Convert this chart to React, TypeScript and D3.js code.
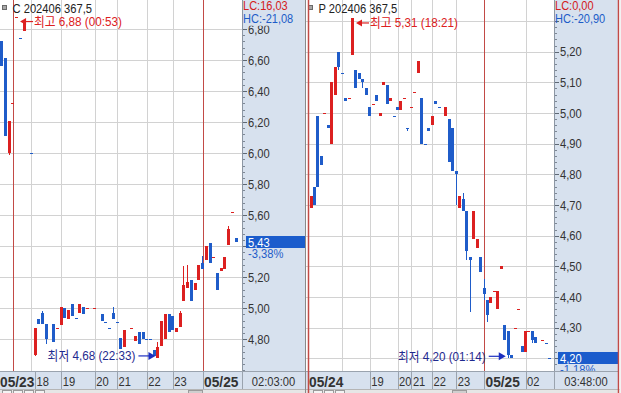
import React from "react";
import * as d3 from "d3";

const RED = "#dc2020";
const BLUE = "#1f5cc9";
const GRID = "#d2d2d2";
const DAYLINE = "#c24a46";
const BAND = "#d7e1ee";
const BAND_EDGE = "#8c96a3";
const NAVY = "#1f2a8f";
const FONT = "'Liberation Sans', Arial, 'Noto Sans CJK KR', sans-serif";

// ---------- Call (C 202406 367,5) ----------
const callSlot = [0, 1, 2, 3, 4, 5, 6, 8, 9, 10, 11, 12, 14, 15, 16, 17, 18, 19, 20, 21, 22, 23, 25, 27, 28, 29, 30, 31, 32, 33, 35, 36, 37, 38, 39, 40, 41, 42, 43, 44, 45, 46, 47, 48, 49, 50, 51, 52, 53, 54, 55, 56, 57, 58, 59, 60, 61, 62, 63];
const callOpen = [6.72, 6.61, 6.0, 6.32, 6.88, 6.74, 6.79, 6.0, 4.7, 4.93, 4.97, 4.9, 4.9, 4.87, 4.89, 5.0, 4.93, 5.03, 4.94, 4.97, 5.01, 5.0, 5.0, 4.96, 4.91, 4.87, 4.97, 4.91, 4.81, 4.75, 4.87, 4.79, 4.85, 4.85, 4.8, 4.8, 4.73, 4.68, 4.76, 4.8, 4.96, 4.95, 4.85, 4.88, 5.05, 5.13, 5.18, 5.12, 5.18, 5.29, 5.31, 5.42, 5.33, 5.23, 5.24, 5.25, 5.41, 5.62, 5.45];
const callHigh = [6.72, 6.61, 6.21, 6.32, 6.88, 6.74, 6.85, 6.0, 4.87, 4.93, 4.98, 4.9, 4.9, 4.87, 5.01, 5.0, 4.99, 5.03, 4.94, 5.03, 5.01, 5.0, 5.0, 4.96, 4.91, 4.87, 5.01, 4.91, 4.81, 4.86, 4.87, 4.82, 4.85, 4.85, 4.8, 4.8, 4.73, 4.78, 4.92, 4.96, 4.96, 4.95, 4.87, 4.98, 5.27, 5.28, 5.18, 5.16, 5.28, 5.34, 5.4, 5.42, 5.33, 5.23, 5.26, 5.33, 5.53, 5.62, 5.45];
const callLow = [6.56, 6.11, 5.99, 6.32, 6.88, 6.74, 6.79, 6.0, 4.69, 4.9, 4.9, 4.77, 4.78, 4.87, 4.89, 4.94, 4.93, 4.95, 4.94, 4.97, 4.96, 5.0, 5.0, 4.92, 4.91, 4.87, 4.93, 4.91, 4.74, 4.75, 4.87, 4.79, 4.77, 4.8, 4.8, 4.8, 4.69, 4.68, 4.76, 4.8, 4.85, 4.86, 4.85, 4.88, 5.05, 5.13, 5.05, 5.12, 5.18, 5.25, 5.31, 5.29, 5.33, 5.12, 5.24, 5.25, 5.41, 5.62, 5.43];
const callClose = [6.56, 6.11, 6.21, 6.32, 6.88, 6.74, 6.85, 6.0, 4.87, 4.9, 4.9, 4.8, 4.78, 4.87, 5.01, 4.94, 4.99, 4.95, 4.94, 5.03, 4.96, 5.0, 5.0, 4.92, 4.91, 4.87, 4.93, 4.91, 4.74, 4.86, 4.87, 4.82, 4.77, 4.8, 4.8, 4.8, 4.69, 4.75, 4.92, 4.96, 4.85, 4.86, 4.87, 4.97, 5.15, 5.17, 5.05, 5.16, 5.28, 5.25, 5.4, 5.29, 5.33, 5.12, 5.26, 5.33, 5.51, 5.62, 5.43];
const callTicks = [4.8, 5.0, 5.2, 5.4, 5.6, 5.8, 6.0, 6.2, 6.4, 6.6, 6.8];
const callGridSlots = [3, 8, 16, 25, 31, 39, 46, 54];
const callDaySlots = [3, 54];
const callLabelSlots = [3, 8, 16, 25, 31, 39, 46, 54];
const callLabels = ["05/23", "18", "19", "20", "21", "22", "23", "05/25"];

// ---------- Put (P 202406 367,5) ----------
const putSlot = [0, 1, 2, 3, 4, 5, 6, 7, 8, 9, 10, 11, 12, 13, 14, 15, 16, 17, 18, 19, 20, 21, 22, 23, 24, 25, 26, 27, 28, 29, 30, 31, 32, 33, 34, 35, 36, 37, 39, 40, 41, 42, 43, 44, 45, 46, 47, 48, 49, 50, 51, 52, 53, 54, 55, 56, 57, 58, 59, 60, 61, 62, 63, 64, 65, 67, 68, 69];
const putOpen = [4.69, 4.76, 4.99, 4.86, 5.0, 4.96, 4.9, 5.06, 5.2, 5.13, 5.05, 5.05, 5.19, 5.14, 5.13, 5.11, 5.08, 5.02, 5.03, 5.06, 4.99, 5.09, 5.09, 5.04, 4.99, 5.02, 5.01, 5.05, 4.95, 5.02, 5.07, 5.13, 5.05, 4.9, 4.95, 4.96, 5.04, 5.02, 4.99, 4.98, 4.95, 4.81, 4.69, 4.72, 4.68, 4.53, 4.59, 4.56, 4.53, 4.43, 4.39, 4.38, 4.42, 4.36, 4.49, 4.31, 4.29, 4.21, 4.3, 4.36, 4.24, 4.22, 4.29, 4.29, 4.27, 4.26, 4.25, 4.2];
const putHigh = [4.73, 4.76, 4.99, 4.86, 5.0, 4.96, 5.1, 5.15, 5.2, 5.13, 5.05, 5.05, 5.31, 5.14, 5.13, 5.11, 5.08, 5.02, 5.03, 5.06, 5.0, 5.1, 5.09, 5.05, 4.99, 5.02, 5.04, 5.05, 4.95, 5.02, 5.07, 5.17, 5.05, 4.9, 4.95, 4.99, 5.04, 5.02, 5.02, 4.98, 4.95, 4.81, 4.73, 4.74, 4.68, 4.53, 4.68, 4.59, 4.53, 4.46, 4.39, 4.4, 4.42, 4.42, 4.5, 4.31, 4.29, 4.21, 4.3, 4.36, 4.24, 4.29, 4.29, 4.29, 4.27, 4.26, 4.25, 4.2];
const putLow = [4.69, 4.7, 4.76, 4.83, 5.0, 4.95, 4.9, 5.06, 5.14, 5.13, 5.04, 5.05, 5.19, 5.08, 5.11, 5.08, 5.06, 4.99, 5.03, 5.04, 4.99, 5.09, 5.03, 5.04, 4.99, 5.01, 5.01, 5.05, 4.94, 5.02, 5.07, 5.13, 4.9, 4.9, 4.94, 4.96, 5.03, 5.02, 4.99, 4.84, 4.81, 4.7, 4.69, 4.68, 4.52, 4.35, 4.59, 4.56, 4.48, 4.39, 4.32, 4.38, 4.42, 4.36, 4.49, 4.26, 4.2, 4.2, 4.3, 4.36, 4.22, 4.22, 4.29, 4.25, 4.25, 4.26, 4.25, 4.2];
const putClose = [4.73, 4.7, 4.76, 4.83, 5.0, 4.95, 5.1, 5.15, 5.15, 5.13, 5.04, 5.05, 5.31, 5.08, 5.11, 5.1, 5.06, 4.99, 5.03, 5.04, 5.0, 5.1, 5.03, 5.05, 4.99, 5.01, 5.04, 5.05, 4.95, 5.02, 5.07, 5.17, 4.9, 4.9, 4.94, 4.99, 5.03, 5.02, 5.02, 4.84, 4.81, 4.8, 4.73, 4.68, 4.55, 4.52, 4.68, 4.59, 4.48, 4.41, 4.34, 4.4, 4.42, 4.42, 4.5, 4.26, 4.21, 4.2, 4.3, 4.36, 4.22, 4.29, 4.29, 4.26, 4.25, 4.26, 4.25, 4.2];
const putTicks = [4.2, 4.3, 4.4, 4.5, 4.6, 4.7, 4.8, 4.9, 5.0, 5.1, 5.2, 5.3];
const putGridSlots = [-1, 9, 17, 25, 29, 35, 42, 50, 62];
const putDaySlots = [-1, 50];
const putLabelSlots = [-1, 17, 25, 29, 35, 42, 50, 62];
const putLabels = ["05/24", "19", "20", "21", "22", "23", "05/25", "02"];

// ---------- helpers ----------
type Candle = { slot: number; o: number; h: number; l: number; c: number; color: string };

function buildCandles(slot: number[], o: number[], h: number[], l: number[], c: number[]): Candle[] {
  const out: Candle[] = [];
  let prevColor = RED;
  for (let i = 0; i < slot.length; i++) {
    let color = prevColor;
    if (c[i] > o[i]) color = RED;
    else if (c[i] < o[i]) color = BLUE;
    else if (i > 0 && c[i] > c[i - 1]) color = RED;
    else if (i > 0 && c[i] < c[i - 1]) color = BLUE;
    prevColor = color;
    out.push({ slot: slot[i], o: o[i], h: h[i], l: l[i], c: c[i], color });
  }
  return out;
}

const fmt = (v: number) => v.toFixed(2).replace(".", ",");

function T(props: {
  x: number; y: number; k?: number; size?: number; fill?: string; weight?: string;
  anchor?: "start" | "middle" | "end"; children: React.ReactNode;
}) {
  const { x, y, k = 0.86, size = 13, fill = "#2a2a2a", weight = "normal", anchor = "start" } = props;
  return (
    <text transform={`translate(${x},${y}) scale(${k},1)`} fontSize={size} fill={fill}
      fontWeight={weight} textAnchor={anchor} fontFamily={FONT}>
      {props.children}
    </text>
  );
}

const BOTTOM = 371;

type PanelCfg = {
  x: d3.ScaleLinear<number, number>;
  y: d3.ScaleLinear<number, number>;
  plotX0: number; plotX1: number; bandX0: number; bandX1: number;
  candles: Candle[];
  ticks: number[]; minorStep: number; hideTop: boolean;
  gridSlots: number[]; daySlots: number[];
  title: string; lc: string; hc: string; pct: string;
  hi: { slot: number; val: number; text: string };
  lo: { slot: number; val: number; text: string };
};

function Panel({ cfg }: { cfg: PanelCfg }) {
  const { x, y, plotX0, plotX1, bandX0, bandX1, candles, ticks } = cfg;
  const last = candles[candles.length - 1];
  const vTop = y.invert(0), vBot = y.invert(BOTTOM);
  const minors: number[] = [];
  for (let k = Math.ceil(vBot / cfg.minorStep); k * cfg.minorStep <= vTop; k++) minors.push(k * cfg.minorStep);

  const hiCx = x(cfg.hi.slot), hiY = y(cfg.hi.val) + 5, hiTip = hiCx + 3.5;
  const loCx = x(cfg.lo.slot), loY = y(cfg.lo.val) - 2, loTip = loCx - 2.5;
  const boxY = Math.round(y(last.c));
  const topTickY = y(ticks[ticks.length - 1]);
  const clipId = "clip" + Math.round(bandX0);

  return (
    <g>
      <defs>
        <clipPath id={clipId}>
          <rect x={bandX0} y={25.5} width={bandX1 - bandX0} height={BOTTOM - 25.5} />
        </clipPath>
      </defs>
      <rect x={plotX0} y={0} width={plotX1 - plotX0} height={BOTTOM} fill="#ffffff" />
      {ticks.map((t) => (
        <line key={"h" + t} x1={plotX0} x2={plotX1} y1={Math.round(y(t)) + 0.5} y2={Math.round(y(t)) + 0.5} stroke={GRID} />
      ))}
      {cfg.gridSlots.map((s) => (
        <line key={"v" + s} x1={Math.round(x(s)) + 0.5} x2={Math.round(x(s)) + 0.5} y1={0} y2={BOTTOM}
          stroke={cfg.daySlots.includes(s) ? DAYLINE : GRID} />
      ))}
      {candles.map((d, i) => {
        const rx = Math.round(x(d.slot) - 1.5);
        const yT = Math.round(y(Math.max(d.o, d.c)));
        const yB = Math.round(y(Math.min(d.o, d.c)));
        const yH = Math.round(y(d.h));
        const yL = Math.round(y(d.l));
        return (
          <g key={i} shapeRendering="crispEdges">
            {(yL - yH > 0) && <rect x={rx + 1} y={yH} width={1} height={Math.max(1, yL - yH)} fill={d.color} />}
            <rect x={rx} y={yT} width={3} height={Math.max(1, yB - yT)} fill={d.color} />
          </g>
        );
      })}
      {/* high annotation */}
      <polygon points={`${hiTip},${hiY} ${hiTip + 6},${hiY - 3.5} ${hiTip + 6},${hiY + 3.5}`} fill={RED} />
      <line x1={hiTip + 5} x2={hiTip + 13} y1={hiY} y2={hiY} stroke={RED} strokeWidth={1.2} />
      <T x={hiTip + 14} y={hiY + 4.5} fill={RED} k={0.9}>{cfg.hi.text}</T>
      {/* low annotation */}
      <polygon points={`${loTip},${loY} ${loTip - 7},${loY - 4} ${loTip - 7},${loY + 4}`} fill="#1c2fc0" />
      <line x1={loTip - 6} x2={loTip - 17} y1={loY} y2={loY} stroke="#1c2fc0" strokeWidth={1.2} />
      <T x={loTip - 20} y={loY + 4.5} fill={NAVY} k={0.9} anchor="end">{cfg.lo.text}</T>
      {/* title */}
      <rect x={plotX0 + 2.5} y={5.5} width={4} height={4} fill="#a8a8a8" stroke="#6a6a6a" strokeWidth={1} />
      <T x={plotX0 + 12.5} y={12.5} fill="#222">{cfg.title}</T>

      {/* value axis band */}
      <rect x={bandX0} y={0} width={bandX1 - bandX0} height={BOTTOM} fill={BAND} />
      <line x1={bandX0 + 0.5} x2={bandX0 + 0.5} y1={0} y2={BOTTOM} stroke={BAND_EDGE} />
      {minors.map((m, i) => (
        <line key={"m" + i} x1={bandX0 + 1} x2={bandX0 + 3} y1={Math.round(y(m)) + 0.5} y2={Math.round(y(m)) + 0.5} stroke="#7d8794" />
      ))}
      {ticks.map((t) => (
        <line key={"t" + t} x1={bandX0 + 1} x2={bandX0 + 5} y1={Math.round(y(t)) + 0.5} y2={Math.round(y(t)) + 0.5} stroke="#5e6874" />
      ))}
      <g clipPath={`url(#${clipId})`}>
        {ticks.map((t, i) => {
          if (cfg.hideTop && i === ticks.length - 1) return null;
          const ty = y(t);
          if (ty > boxY - 13 && ty < boxY + 18) return null; // covered by last-price box
          return <T key={"l" + t} x={bandX0 + 6} y={ty + 4.6} fill="#333">{fmt(t)}</T>;
        })}
      </g>
      {/* last price box */}
      <rect x={bandX0 + 4} y={boxY - 6} width={bandX1 - bandX0 - 4} height={12} fill="#1b5ccc" />
      <T x={bandX0 + 6} y={boxY + 4.8} fill="#ffffff">{fmt(last.c)}</T>
      <T x={bandX0 + 6} y={boxY + 15.5} fill={BLUE}>{cfg.pct}</T>
      {/* LC / HC */}
      <rect x={bandX0 + 1} y={0} width={bandX1 - bandX0 - 1} height={Math.min(25.5, topTickY - 3)} fill={BAND} />
      <T x={bandX0 + 1} y={10.3} fill="#d42020" size={12} k={0.92}>{cfg.lc}</T>
      <T x={bandX0 + 1} y={23.3} fill="#1c5cc8" size={12} k={0.92}>{cfg.hc}</T>
    </g>
  );
}

function layoutLabels(xs: number[], labels: string[], isDate: boolean[], x0: number) {
  const out: { sep: number | null; lx: number; text: string; date: boolean }[] = [];
  let prevEnd = x0;
  for (let i = 0; i < xs.length; i++) {
    const width = isDate[i] ? 35 : labels[i].length * 6.2;
    let sep: number | null = Math.max(xs[i], prevEnd);
    let lx = sep + 1.5;
    if (isDate[i] && i < xs.length - 1 && lx + width > xs[i + 1]) {
      lx = Math.max(x0, xs[i + 1] - width - 1);
      sep = lx <= x0 + 0.5 ? null : lx - 1;
    }
    out.push({ sep, lx, text: labels[i], date: isDate[i] });
    prevEnd = lx + width;
  }
  return out;
}

export default function App() {
  const callX = d3.scaleLinear().domain([0, 64]).range([1.7, 1.7 + 3.72 * 64]);
  const callY = d3.scaleLinear().domain([4.8, 6.6]).range([339.3, 60]);
  const putX = d3.scaleLinear().domain([0, 69]).range([311, 311 + 3.46 * 69]);
  const putY = d3.scaleLinear().domain([4.2, 5.2]).range([358.3, 51.7]);

  const callCandles = buildCandles(callSlot, callOpen, callHigh, callLow, callClose);
  const putCandles = buildCandles(putSlot, putOpen, putHigh, putLow, putClose);

  const callCfg: PanelCfg = {
    x: callX, y: callY, plotX0: 0, plotX1: 242, bandX0: 242, bandX1: 305.5,
    candles: callCandles, ticks: callTicks, minorStep: 0.04, hideTop: false,
    gridSlots: callGridSlots, daySlots: callDaySlots,
    title: "C 202406 367,5", lc: "LC:16,03", hc: "HC:-21,08", pct: "-3,38%",
    hi: { slot: 4, val: 6.88, text: "최고 6,88 (00:53)" },
    lo: { slot: 42, val: 4.68, text: "최저 4,68 (22:33)" },
  };
  const putCfg: PanelCfg = {
    x: putX, y: putY, plotX0: 306, plotX1: 554, bandX0: 554, bandX1: 618,
    candles: putCandles, ticks: putTicks, minorStep: 0.02, hideTop: true,
    gridSlots: putGridSlots, daySlots: putDaySlots,
    title: "P 202406 367,5", lc: "LC:0,00", hc: "HC:-20,90", pct: "-1,18%",
    hi: { slot: 12, val: 5.31, text: "최고 5,31 (18:21)" },
    lo: { slot: 57, val: 4.2, text: "최저 4,20 (01:14)" },
  };

  const callLab = layoutLabels(callLabelSlots.map((s) => callX(s)), callLabels,
    callLabelSlots.map((s) => callDaySlots.includes(s)), 0);
  const putLab = layoutLabels(putLabelSlots.map((s) => putX(s)), putLabels,
    putLabelSlots.map((s) => putDaySlots.includes(s)), 306);

  const renderLabels = (arr: ReturnType<typeof layoutLabels>, key: string) =>
    arr.map((d, i) => (
      <g key={key + i}>
        {d.sep !== null && (
          <line x1={Math.round(d.sep) + 0.5} x2={Math.round(d.sep) + 0.5} y1={BOTTOM} y2={389} stroke="#9aa3ae" />
        )}
        {d.date ? (
          <T x={d.lx} y={386.5} size={14} k={0.98} weight="bold" fill="#333">{d.text}</T>
        ) : (
          <T x={d.lx} y={386} fill="#333">{d.text}</T>
        )}
      </g>
    ));

  return (
    <svg width={621} height={393} style={{ position: "fixed", left: 0, top: 0, background: "#fff" }}>
      <Panel cfg={callCfg} />
      <Panel cfg={putCfg} />

      {/* bottom time axis */}
      <rect x={0} y={BOTTOM} width={619} height={18} fill={BAND} />
      <line x1={0} x2={619} y1={BOTTOM + 0.5} y2={BOTTOM + 0.5} stroke="#9aa3ae" />
      {renderLabels(callLab, "c")}
      {renderLabels(putLab, "p")}
      <line x1={242.5} x2={242.5} y1={BOTTOM} y2={389} stroke="#9aa3ae" />
      <line x1={554.5} x2={554.5} y1={BOTTOM} y2={389} stroke="#9aa3ae" />
      <T x={273.5} y={386} anchor="middle" fill="#333">02:03:00</T>
      <T x={586} y={386} anchor="middle" fill="#333">03:48:00</T>

      {/* bottom strip */}
      <rect x={0} y={389} width={621} height={4} fill="#e6e6e6" />
      <line x1={0} x2={621} y1={389.5} y2={389.5} stroke="#b5b5b5" />
      {[2, 13, 24, 35, 313, 324, 335].map((bx) => (
        <rect key={"sb" + bx} x={bx + 0.5} y={390.5} width={9} height={3} fill="#f4f4f4" stroke="#9a9a9a" />
      ))}
      <rect x={188.5} y={390.5} width={14} height={3} fill="#cfcfcf" stroke="#9a9a9a" />
      <rect x={452.5} y={390.5} width={14} height={3} fill="#cfcfcf" stroke="#9a9a9a" />

      {/* panel dividers */}
      <line x1={305.5} x2={305.5} y1={0} y2={393} stroke="#8a8a8a" />
      <line x1={Math.round(putX(-1)) + 0.5} x2={Math.round(putX(-1)) + 0.5} y1={0} y2={393} stroke={DAYLINE} strokeWidth={1.5} />
      <line x1={618.5} x2={618.5} y1={0} y2={393} stroke={DAYLINE} strokeWidth={1.5} />
      <rect x={619.5} y={0} width={2} height={393} fill="#f2f2f2" />
    </svg>
  );
}
